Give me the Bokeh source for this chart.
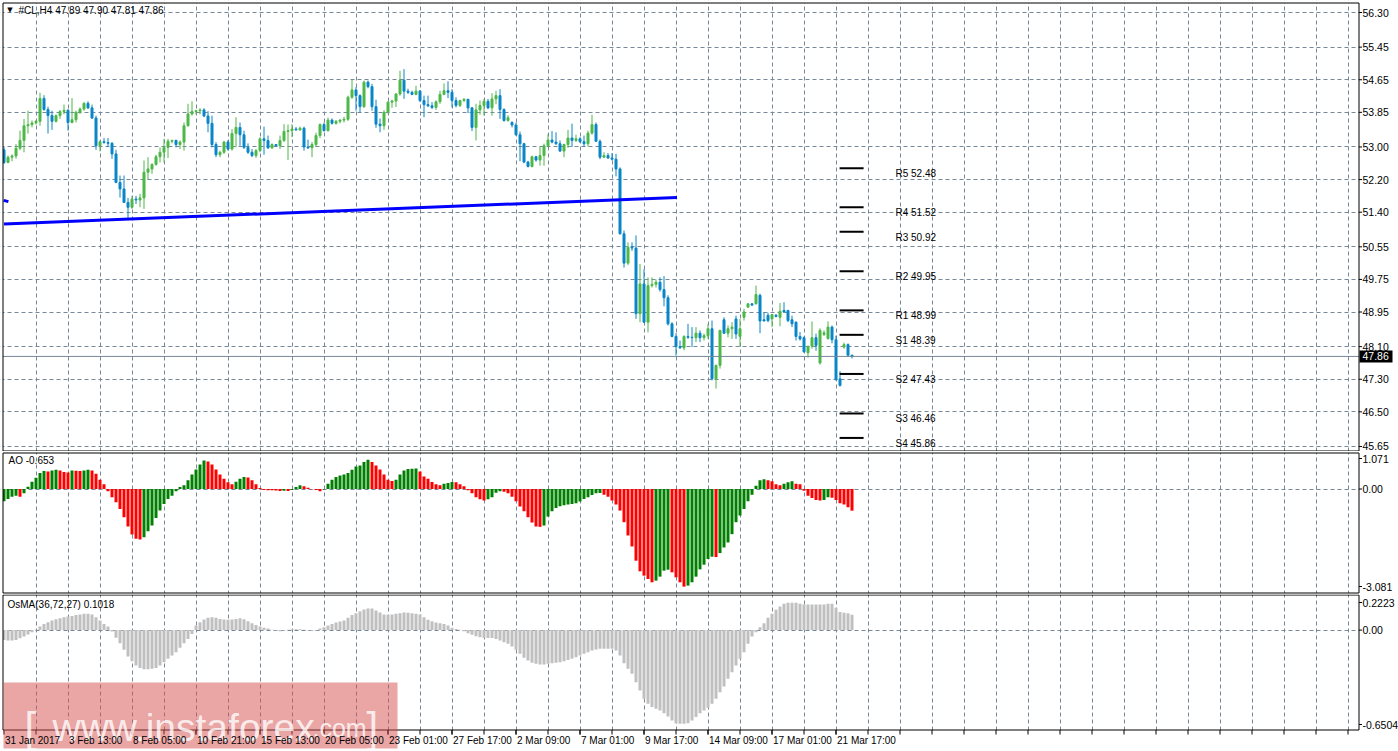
from bokeh.plotting import figure
from bokeh.layouts import column
from bokeh.models import ColumnDataSource, Range1d, FixedTicker
from bokeh.core.properties import value
from bokeh.embed import file_html
from bokeh.resources import INLINE

# ---------------- data ----------------
symbol_header = "#CL,H4  47.89 47.90 47.81 47.86"
ao_header = "AO -0.653"
osma_header = "OsMA(36,72,27) 0.1018"

opens = [
    52.93, 52.62, 52.75, 52.78, 52.97, 53.16, 53.52, 53.55, 53.59, 53.63,
    54.19, 53.92, 53.77, 53.63, 53.77, 53.87, 53.90, 53.60, 53.67, 53.85,
    53.93, 54.07, 53.96, 53.71, 53.03, 53.13, 53.11, 53.09, 52.83, 52.13,
    51.97, 51.64, 51.52, 51.72, 51.70, 51.75, 52.38, 52.46, 52.57, 52.76,
    52.87, 52.99, 53.14, 53.16, 53.06, 53.12, 53.52, 53.81, 53.87, 53.89,
    53.91, 53.76, 53.58, 53.06, 52.81, 52.87, 53.12, 52.95, 53.33, 53.48,
    53.30, 52.99, 52.87, 52.79, 52.91, 53.20, 53.16, 52.98, 53.06, 53.03,
    53.16, 53.38, 53.40, 53.44, 53.42, 53.46, 53.00, 52.98, 53.06, 53.28,
    53.55, 53.40, 53.66, 53.58, 53.63, 53.66, 53.68, 54.22, 54.40, 54.26,
    53.99, 54.59, 54.48, 53.99, 53.56, 53.52, 53.85, 54.10, 54.13, 54.30,
    54.64, 54.37, 54.34, 54.29, 54.37, 54.14, 54.04, 54.01, 53.97, 54.11,
    54.29, 54.38, 54.34, 54.14, 54.02, 54.14, 54.17, 53.96, 53.48, 53.91,
    54.02, 54.12, 53.96, 54.18, 54.26, 53.92, 53.65, 53.60, 53.54, 53.30,
    53.08, 52.63, 52.52, 52.76, 52.68, 52.79, 53.03, 53.17, 53.12, 53.08,
    52.90, 53.06, 53.22, 53.16, 53.20, 53.13, 53.08, 53.34, 53.55, 53.14,
    52.75, 52.79, 52.73, 52.70, 52.46, 50.87, 50.15, 50.54, 50.52, 48.91,
    49.64, 48.70, 49.60, 49.63, 49.68, 49.50, 49.30, 48.66, 48.35, 48.10,
    48.07, 48.35, 48.33, 48.32, 48.43, 48.32, 48.37, 48.54, 47.31, 47.64,
    48.76, 48.43, 48.54, 48.78, 48.35, 48.82, 49.07, 49.15, 49.15, 49.36,
    48.76, 48.87, 48.78, 48.87, 48.82, 48.99, 48.99, 48.76, 48.70, 48.35,
    48.32, 47.95, 48.11, 48.32, 47.70, 48.40, 48.30, 48.58, 48.27, 47.31,
    48.09, 48.15, 47.89,
]
highs = [
    53.00, 52.79, 52.82, 53.07, 53.40, 53.69, 53.89, 53.65, 53.66, 54.33,
    54.27, 53.99, 53.89, 53.80, 53.91, 54.04, 53.93, 54.20, 53.89, 53.97,
    54.10, 54.12, 54.04, 53.77, 53.16, 53.22, 53.22, 53.12, 52.93, 52.30,
    52.30, 51.75, 51.80, 51.80, 51.85, 52.67, 52.75, 52.60, 52.81, 52.99,
    53.20, 53.20, 53.18, 53.18, 53.16, 53.60, 54.06, 54.12, 53.91, 53.95,
    53.95, 53.88, 53.77, 53.12, 52.91, 53.15, 53.17, 53.44, 53.73, 53.60,
    53.40, 53.09, 52.95, 52.95, 53.24, 53.50, 53.28, 53.09, 53.07, 53.28,
    53.56, 53.55, 53.56, 53.49, 53.50, 53.50, 53.18, 53.12, 53.35, 53.58,
    53.60, 53.72, 53.70, 53.66, 53.68, 53.74, 54.26, 54.67, 54.47, 54.29,
    54.63, 54.63, 54.55, 54.16, 53.70, 53.90, 54.12, 54.16, 54.32, 54.87,
    54.91, 54.43, 54.38, 54.50, 54.40, 54.26, 54.26, 54.10, 54.14, 54.38,
    54.56, 54.61, 54.42, 54.22, 54.16, 54.20, 54.18, 53.98, 54.06, 54.14,
    54.18, 54.18, 54.32, 54.38, 54.42, 53.95, 53.78, 53.63, 53.60, 53.38,
    53.10, 52.66, 52.79, 52.78, 53.00, 53.08, 53.32, 53.39, 53.36, 53.16,
    53.08, 53.42, 53.57, 53.30, 53.24, 53.28, 53.40, 53.79, 53.60, 53.18,
    52.87, 52.85, 52.85, 52.83, 52.50, 50.95, 50.66, 50.66, 50.83, 50.13,
    50.00, 49.80, 49.80, 49.75, 49.80, 49.83, 49.36, 48.70, 48.43, 48.25,
    48.38, 48.66, 48.58, 48.58, 48.50, 48.42, 48.66, 48.74, 47.66, 48.51,
    48.82, 48.62, 48.70, 48.86, 48.78, 49.03, 49.17, 49.17, 49.60, 49.40,
    48.95, 48.93, 48.89, 48.90, 49.17, 49.19, 49.00, 48.86, 48.72, 48.46,
    48.35, 48.12, 48.72, 48.42, 48.55, 48.50, 48.72, 48.62, 48.37, 47.50,
    48.20, 48.18, 47.90,
]
lows = [
    52.58, 52.60, 52.65, 52.71, 52.92, 52.87, 53.33, 53.48, 53.55, 53.52,
    53.89, 53.33, 53.42, 53.60, 53.69, 53.80, 53.40, 53.58, 53.60, 53.81,
    53.89, 53.93, 53.69, 52.93, 52.89, 53.08, 53.00, 52.71, 52.11, 51.76,
    51.63, 51.23, 51.48, 51.60, 51.52, 51.48, 52.20, 52.34, 52.54, 52.62,
    52.62, 52.73, 53.09, 52.99, 52.95, 52.91, 53.50, 53.77, 53.80, 53.80,
    53.73, 53.36, 52.99, 52.75, 52.75, 52.83, 52.91, 52.91, 52.99, 53.03,
    52.95, 52.83, 52.75, 52.73, 52.87, 52.81, 52.95, 52.95, 53.00, 52.95,
    53.12, 52.68, 53.24, 53.40, 53.40, 52.91, 52.95, 52.75, 53.00, 53.22,
    53.38, 53.38, 53.55, 53.55, 53.58, 53.60, 53.64, 54.18, 53.89, 53.85,
    53.96, 54.44, 53.89, 53.47, 53.36, 53.42, 53.82, 53.96, 53.98, 54.26,
    54.18, 54.30, 54.27, 54.27, 54.10, 53.73, 53.98, 53.93, 53.91, 54.06,
    54.27, 54.20, 53.97, 53.97, 53.98, 54.10, 53.83, 53.39, 53.16, 53.79,
    53.77, 53.93, 53.77, 54.05, 53.69, 53.62, 53.62, 53.48, 53.28, 52.65,
    52.60, 52.50, 52.50, 52.64, 52.54, 52.54, 53.00, 53.09, 53.05, 52.88,
    52.75, 52.98, 53.00, 53.12, 53.10, 53.01, 53.01, 53.30, 53.12, 52.70,
    52.73, 52.71, 52.67, 52.28, 50.85, 50.04, 50.10, 50.45, 48.78, 48.70,
    48.68, 48.45, 49.55, 49.55, 49.45, 49.09, 48.62, 48.33, 47.88, 48.05,
    48.01, 48.29, 48.09, 48.21, 48.21, 48.25, 48.29, 47.27, 47.07, 47.56,
    48.41, 48.33, 48.29, 48.29, 48.09, 48.74, 49.05, 49.10, 49.14, 48.43,
    48.72, 48.70, 48.58, 48.82, 48.60, 48.93, 48.70, 48.58, 48.25, 48.25,
    47.96, 47.83, 48.05, 48.00, 47.66, 48.36, 48.27, 48.18, 47.27, 47.12,
    48.05, 47.86, 47.81,
]
closes = [
    52.62, 52.75, 52.78, 52.97, 53.16, 53.52, 53.55, 53.59, 53.63, 54.19,
    53.92, 53.77, 53.63, 53.77, 53.87, 53.90, 53.60, 53.67, 53.85, 53.93,
    54.07, 53.96, 53.71, 53.03, 53.13, 53.11, 53.09, 52.83, 52.13, 51.97,
    51.64, 51.52, 51.72, 51.70, 51.75, 52.38, 52.46, 52.57, 52.76, 52.87,
    52.99, 53.14, 53.16, 53.06, 53.12, 53.52, 53.81, 53.87, 53.89, 53.91,
    53.76, 53.58, 53.06, 52.81, 52.87, 53.12, 52.95, 53.33, 53.48, 53.30,
    52.99, 52.87, 52.79, 52.91, 53.20, 53.16, 52.98, 53.06, 53.03, 53.16,
    53.38, 53.40, 53.44, 53.42, 53.46, 53.00, 52.98, 53.06, 53.28, 53.55,
    53.40, 53.66, 53.58, 53.63, 53.66, 53.68, 54.22, 54.40, 54.26, 53.99,
    54.59, 54.48, 53.99, 53.56, 53.52, 53.85, 54.10, 54.13, 54.30, 54.64,
    54.37, 54.34, 54.29, 54.37, 54.14, 54.04, 54.01, 53.97, 54.11, 54.29,
    54.38, 54.34, 54.14, 54.02, 54.14, 54.17, 53.96, 53.48, 53.91, 54.02,
    54.12, 53.96, 54.18, 54.26, 53.92, 53.65, 53.72, 53.54, 53.30, 53.08,
    52.63, 52.52, 52.76, 52.68, 52.79, 53.03, 53.17, 53.12, 53.08, 52.90,
    53.06, 53.22, 53.16, 53.20, 53.13, 53.08, 53.34, 53.55, 53.14, 52.75,
    52.79, 52.73, 52.70, 52.46, 50.87, 50.15, 50.54, 50.52, 48.91, 49.64,
    48.70, 49.60, 49.63, 49.68, 49.50, 49.30, 48.66, 48.35, 48.10, 48.07,
    48.35, 48.33, 48.32, 48.43, 48.32, 48.37, 48.54, 47.31, 47.64, 48.50,
    48.43, 48.54, 48.58, 48.41, 48.54, 48.95, 49.15, 49.12, 49.38, 48.73,
    48.73, 48.74, 48.89, 48.84, 48.97, 48.95, 48.74, 48.66, 48.35, 48.29,
    47.97, 48.11, 48.32, 48.13, 48.50, 48.44, 48.58, 48.27, 47.29, 47.15,
    48.15, 47.89, 47.86,
]
ao = [
    -0.37, -0.30, -0.23, -0.20, -0.23, -0.13, 0.07, 0.22, 0.34, 0.48,
    0.54, 0.53, 0.56, 0.58, 0.56, 0.51, 0.50, 0.56, 0.55, 0.54,
    0.56, 0.58, 0.56, 0.46, 0.28, 0.14, -0.07, -0.25, -0.40, -0.60,
    -0.85, -1.13, -1.37, -1.50, -1.52, -1.45, -1.27, -1.10, -0.87, -0.65,
    -0.45, -0.30, -0.20, -0.07, 0.06, 0.11, 0.26, 0.44, 0.59, 0.74,
    0.86, 0.83, 0.74, 0.59, 0.44, 0.31, 0.20, 0.14, 0.22, 0.31,
    0.36, 0.35, 0.26, 0.14, 0.03, -0.03, -0.035, -0.04, -0.045, -0.06,
    -0.05, -0.06, -0.03, 0.06, 0.11, 0.08, 0.04, -0.01, -0.03, -0.07,
    -0.01, 0.16, 0.28, 0.36, 0.41, 0.44, 0.48, 0.58, 0.68, 0.71,
    0.81, 0.88, 0.81, 0.71, 0.59, 0.44, 0.28, 0.24, 0.28, 0.44,
    0.56, 0.60, 0.61, 0.62, 0.53, 0.38, 0.31, 0.21, 0.14, 0.11,
    0.16, 0.18, 0.21, 0.20, 0.14, 0.08, -0.04, -0.13, -0.25, -0.31,
    -0.35, -0.31, -0.25, -0.11, -0.07, -0.08, -0.13, -0.23, -0.37, -0.53,
    -0.67, -0.85, -1.01, -1.13, -1.14, -1.10, -0.83, -0.67, -0.57, -0.52,
    -0.49, -0.47, -0.45, -0.43, -0.38, -0.30, -0.25, -0.18, -0.13, -0.12,
    -0.17, -0.23, -0.35, -0.47, -0.65, -1.00, -1.40, -1.73, -2.16, -2.48,
    -2.61, -2.71, -2.81, -2.76, -2.64, -2.46, -2.43, -2.51, -2.66, -2.81,
    -2.94, -2.91, -2.81, -2.64, -2.42, -2.28, -2.11, -2.04, -2.05, -1.93,
    -1.76, -1.61, -1.36, -1.00, -0.80, -0.60, -0.37, -0.17, 0.10, 0.26,
    0.29, 0.26, 0.23, 0.14, 0.11, 0.16, 0.20, 0.23, 0.16, 0.14,
    -0.05, -0.20, -0.27, -0.33, -0.35, -0.33, -0.25, -0.26, -0.33, -0.43,
    -0.47, -0.55, -0.653,
]
osma = [
    -0.065, -0.069, -0.069, -0.065, -0.054, -0.043, -0.029, -0.014, 0.002, 0.024,
    0.041, 0.052, 0.063, 0.072, 0.079, 0.085, 0.090, 0.094, 0.099, 0.103,
    0.108, 0.108, 0.103, 0.085, 0.063, 0.041, 0.024, -0.010, -0.051, -0.087,
    -0.130, -0.174, -0.206, -0.234, -0.250, -0.259, -0.259, -0.256, -0.250, -0.234,
    -0.212, -0.190, -0.168, -0.146, -0.117, -0.087, -0.058, -0.025, 0.030, 0.052,
    0.070, 0.081, 0.085, 0.081, 0.074, 0.070, 0.068, 0.070, 0.074, 0.079,
    0.072, 0.059, 0.046, 0.033, 0.024, 0.015, 0.011, 0.002, -0.003, -0.007,
    -0.003, 0.002, 0.006, 0.006, 0.006, 0.002, -0.003, -0.005, -0.003, 0.011,
    0.019, 0.030, 0.041, 0.050, 0.057, 0.063, 0.081, 0.099, 0.112, 0.125,
    0.136, 0.143, 0.143, 0.130, 0.116, 0.103, 0.101, 0.103, 0.108, 0.112,
    0.116, 0.114, 0.112, 0.108, 0.103, 0.085, 0.068, 0.059, 0.050, 0.046,
    0.041, 0.030, 0.015, 0.008, 0.002, -0.007, -0.020, -0.031, -0.040, -0.047,
    -0.051, -0.053, -0.053, -0.058, -0.069, -0.080, -0.091, -0.108, -0.130, -0.157,
    -0.183, -0.201, -0.216, -0.223, -0.228, -0.228, -0.223, -0.219, -0.216, -0.212,
    -0.206, -0.197, -0.190, -0.179, -0.168, -0.157, -0.146, -0.135, -0.128, -0.124,
    -0.124, -0.124, -0.124, -0.135, -0.168, -0.219, -0.256, -0.289, -0.344, -0.399,
    -0.454, -0.487, -0.509, -0.520, -0.531, -0.549, -0.571, -0.597, -0.615, -0.619,
    -0.619, -0.615, -0.597, -0.575, -0.549, -0.531, -0.514, -0.487, -0.454, -0.410,
    -0.373, -0.322, -0.278, -0.234, -0.190, -0.146, -0.091, -0.043, -0.014, 0.019,
    0.046, 0.081, 0.108, 0.134, 0.156, 0.174, 0.180, 0.180, 0.180, 0.174,
    0.169, 0.169, 0.169, 0.169, 0.169, 0.169, 0.174, 0.174, 0.147, 0.119,
    0.114, 0.112, 0.1018,
]
price_ticks = [56.30, 55.45, 54.65, 53.85, 53.00, 52.20, 51.40, 50.55,
               49.75, 48.95, 48.10, 47.30, 46.50, 45.65]
price_tick_labels = ["56.30", "55.45", "54.65", "53.85", "53.00", "52.20", "51.40",
                     "50.55", "49.75", "48.95", "48.10", "47.30", "46.50", "45.65"]
ao_scale_labels = ["1.071", "0.00", "-3.081"]
osma_scale_labels = ["0.2223", "0.00", "-0.6504"]
date_labels = ["31 Jan 2017", "3 Feb 13:00", "8 Feb 05:00", "10 Feb 21:00",
               "15 Feb 13:00", "20 Feb 05:00", "23 Feb 01:00", "27 Feb 17:00",
               "2 Mar 09:00", "7 Mar 01:00", "9 Mar 17:00", "14 Mar 09:00",
               "17 Mar 01:00", "21 Mar 17:00"]
pivot_names = ["R5", "R4", "R3", "R2", "R1", "S1", "S2", "S3", "S4"]
pivot_values = [52.48, 51.52, 50.92, 49.95, 48.99, 48.39, 47.43, 46.46, 45.86]
trend_bars = [0, 168.25]
trend_prices = [51.11, 51.76]
stub_bars = [-0.1, 1.1]
stub_prices = [51.69, 51.66]
last_price = 47.86

# ---------------- layout / style ----------------
FONT = "Liberation Sans"
GRID_C = "#778899"
UP_C = "#4DB848"
DN_C = "#0A86C8"
W = 1398
BAR_PX = 4.0
n = len(closes)
bars = list(range(n))
grid_bars = list(range(8, 344, 8))
LEFT_PX, RIGHT_PX = 2.5, 1358.5
SCALE_FS = "10.5px"


def bx(px):
    """page pixel -> bar coordinate (bar i is centred on pixel 3.5 + 4 i)"""
    return (px - 3.5) / BAR_PX


x_range = Range1d(bx(0), bx(W))


def v1(py):  # main panel: page pixel -> price
    return 56.30 - (py - 12) / 40.75


def v2(py):  # AO panel
    return (488.5 - py) / 33.2


def v3(py):  # OsMA panel
    return (629.6 - py) / 151.3


def make_fig(height, vfun, top_page):
    p = figure(width=W, height=height, x_range=x_range,
               y_range=Range1d(vfun(top_page + height), vfun(top_page)),
               output_backend="svg", toolbar_location=None, tools="",
               x_axis_location=None, y_axis_location=None,
               min_border=0, min_border_left=0, min_border_right=0,
               min_border_top=0, min_border_bottom=0,
               background_fill_color="white", border_fill_color="white",
               outline_line_color=None)
    p.xgrid.ticker = FixedTicker(ticks=grid_bars)
    p.xgrid.grid_line_color = GRID_C
    p.xgrid.grid_line_dash = "4 3"
    p.ygrid.grid_line_color = GRID_C
    p.ygrid.grid_line_dash = "4 3"
    return p


def frame_panel(p, vfun, top_page, height, t_px, b_px):
    """white margins around the panel and its black border"""
    ctop, cbot = vfun(top_page - 5), vfun(top_page + height + 5)
    p.quad(left=[bx(-5), bx(RIGHT_PX), bx(-5), bx(-5)],
           right=[bx(LEFT_PX), bx(W + 5), bx(W + 5), bx(W + 5)],
           top=[ctop, ctop, ctop, vfun(b_px)],
           bottom=[cbot, cbot, vfun(t_px), cbot],
           fill_color="white", line_color=None)
    p.segment(x0=[bx(LEFT_PX), bx(RIGHT_PX), bx(LEFT_PX), bx(LEFT_PX)],
              x1=[bx(LEFT_PX), bx(RIGHT_PX), bx(RIGHT_PX), bx(RIGHT_PX)],
              y0=[vfun(t_px), vfun(t_px), vfun(t_px), vfun(b_px)],
              y1=[vfun(b_px), vfun(b_px), vfun(t_px), vfun(b_px)],
              line_color="black", line_width=1)


def scale_labels(p, values, labels):
    p.segment(x0=[bx(RIGHT_PX)] * len(values), x1=[bx(RIGHT_PX + 3)] * len(values),
              y0=values, y1=values, line_color="black", line_width=1)
    p.text(x=[bx(1362)] * len(values), y=values, text=labels,
           text_font=value(FONT), text_font_size=SCALE_FS, text_color="black",
           text_baseline="middle", text_align="left")


# ---------------- main price panel ----------------
p1 = make_fig(451, v1, 0)
p1.ygrid.ticker = FixedTicker(ticks=price_ticks)

body_top = [max(o, c) for o, c in zip(opens, closes)]
body_bot = [min(o, c) for o, c in zip(opens, closes)]
cols = [UP_C if c >= o else DN_C for o, c in zip(opens, closes)]
src = ColumnDataSource(dict(x=bars, high=highs, low=lows, top=body_top,
                            bottom=body_bot, color=cols))
p1.segment(x0="x", y0="high", x1="x", y1="low", line_color="color",
           line_width=1, source=src)
p1.vbar(x="x", width=0.5, top="top", bottom="bottom", fill_color="color",
        line_color="color", line_width=1, source=src)

p1.line(trend_bars, trend_prices, line_color="#0000FF", line_width=3)
p1.line(stub_bars, stub_prices, line_color="#0000FF", line_width=3)

p1.segment(x0=[bx(LEFT_PX)], x1=[bx(RIGHT_PX)], y0=[last_price], y1=[last_price],
           line_color=GRID_C, line_width=1)

piv_x0 = [n - 1 - 3.1] * len(pivot_values)
piv_x1 = [n - 1 + 2.9] * len(pivot_values)
p1.segment(x0=piv_x0, y0=pivot_values, x1=piv_x1, y1=pivot_values,
           line_color="black", line_width=2)
p1.text(x=[bx(895)] * len(pivot_values), y=pivot_values,
        text=[f"{nm} {v:.2f}" for nm, v in zip(pivot_names, pivot_values)],
        text_font=value(FONT), text_font_size="10px", text_color="black",
        text_baseline="top", text_align="left")

frame_panel(p1, v1, 0, 451, 2.5, 450.5)
scale_labels(p1, price_ticks, price_tick_labels)

# current price marker on the scale
half = 6 / 40.75
p1.quad(left=[bx(1359)], right=[bx(1392)], top=[last_price + half],
        bottom=[last_price - half], fill_color="black", line_color=None)
p1.text(x=[bx(1362)], y=[last_price], text=[f"{last_price:.2f}"],
        text_font=value(FONT), text_font_size=SCALE_FS, text_color="white",
        text_baseline="middle", text_align="left")

p1.text(x=[bx(9.5)], y=[v1(9)], text=["\u25bc"], text_font=value("DejaVu Sans"),
        text_font_size="7px", text_color="black", text_align="center",
        text_baseline="middle")
p1.text(x=[bx(18)], y=[v1(10)], text=[symbol_header], text_font=value(FONT),
        text_font_size="10px", text_color="black", text_baseline="middle")

# ---------------- AO panel ----------------
p2 = make_fig(143, v2, 451)
p2.ygrid.ticker = FixedTicker(ticks=[0.0])
ao_cols = ["#008000" if i == 0 or ao[i] >= ao[i - 1] else "#FF0000" for i in range(n)]
p2.vbar(x=bars, width=0.75, top=ao, bottom=0, fill_color=ao_cols, line_color=None)
frame_panel(p2, v2, 451, 143, 452.5, 592.5)
scale_labels(p2, [v2(458), 0.0, v2(586)], ao_scale_labels)
p2.text(x=[bx(8)], y=[v2(460)], text=[ao_header], text_font=value(FONT),
        text_font_size="10px", text_color="black", text_baseline="middle")

# ---------------- OsMA panel ----------------
p3 = make_fig(157, v3, 594)
p3.ygrid.ticker = FixedTicker(ticks=[0.0])
p3.vbar(x=bars, width=0.75, top=osma, bottom=0, fill_color="#C0C0C0", line_color=None)
frame_panel(p3, v3, 594, 157, 594.5, 729.5)
scale_labels(p3, [v3(602), 0.0, v3(724)], osma_scale_labels)
p3.text(x=[bx(7)], y=[v3(604)], text=[osma_header], text_font=value(FONT),
        text_font_size="10px", text_color="black", text_baseline="middle")

# time scale: tick marks under every grid line, dates every second one
p3.segment(x0=grid_bars, x1=grid_bars, y0=[v3(729.5)] * len(grid_bars),
           y1=[v3(734)] * len(grid_bars), line_color="black", line_width=1)
date_x = [16 * k for k in range(len(date_labels))]
p3.segment(x0=date_x, x1=date_x, y0=[v3(729.5)] * len(date_x),
           y1=[v3(734)] * len(date_x), line_color="black", line_width=1)

# watermark
p3.quad(left=[bx(3)], right=[bx(397)], top=[v3(682)], bottom=[v3(748)],
        fill_color="#D54B4B", fill_alpha=0.5, line_color=None)
wm_text = ["[", "www.instaforex", ".com", "]"]
wm_px = [24, 52, 312, 366]
wm_size = ["42px", "39px", "25px", "42px"]
for t, px, s in zip(wm_text, wm_px, wm_size):
    p3.text(x=[bx(px)], y=[v3(727)], text=[t], text_font=value(FONT),
            text_font_size=s, text_color="white", text_alpha=0.8,
            text_baseline="alphabetic", text_align="left")

p3.text(x=date_x, y=[v3(740)] * len(date_x), text=date_labels, x_offset=1,
        text_font=value(FONT), text_font_size="10px", text_color="black",
        text_baseline="middle", text_align="left")

layout = column(p1, p2, p3, spacing=0,
                styles={"position": "absolute", "left": "0px", "top": "0px"})
open("out.html", "w").write(file_html(layout, INLINE))
